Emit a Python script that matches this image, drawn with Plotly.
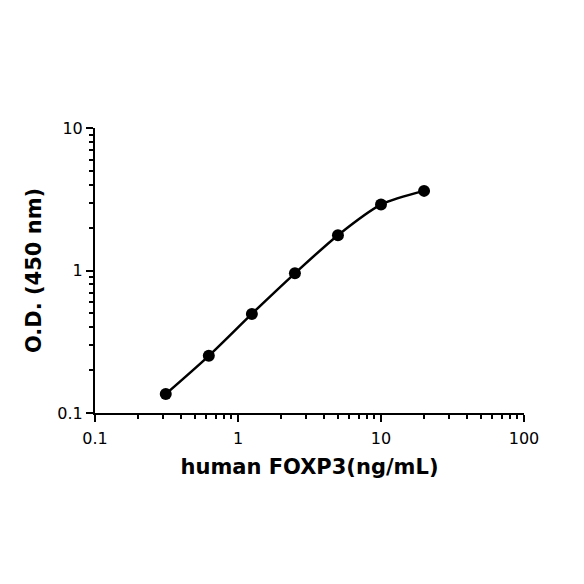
import plotly.graph_objects as go

conc = [0.3125, 0.625, 1.25, 2.5, 5, 10, 20]
od = [0.136, 0.252, 0.496, 0.955, 1.77, 2.9, 3.62]
x_ticks = [0.1, 1, 10, 100]
x_tick_labels = ["0.1", "1", "10", "100"]
y_ticks = [0.1, 1, 10]
y_tick_labels = ["0.1", "1", "10"]
x_minor = [m * d for d in (0.1, 1, 10) for m in range(2, 10)]
y_minor = [m * d for d in (0.1, 1) for m in range(2, 10)]

fig = go.Figure()
fig.add_trace(go.Scatter(
    x=conc, y=od, mode="lines+markers",
    line=dict(color="black", width=2.5, shape="spline", smoothing=0.8),
    marker=dict(color="black", size=12),
    showlegend=False,
))

axis_common = dict(
    type="log", showline=True, linecolor="black", linewidth=2,
    ticks="outside", ticklen=7, tickwidth=2, tickcolor="black",
    showgrid=False, zeroline=False, mirror=False,
    tickfont=dict(family="DejaVu Sans", size=16, color="black"),
)
title_font = dict(family="DejaVu Sans", size=21, color="black")

fig.update_xaxes(**axis_common, range=[-1, 2], tickvals=x_ticks, ticktext=x_tick_labels,
                 ticklabelstandoff=3,
                 minor=dict(tickvals=x_minor, ticks="outside", ticklen=4, tickwidth=2,
                            tickcolor="black", showgrid=False),
                 title=dict(text="<b>human FOXP3(ng/mL)</b>", font=title_font, standoff=12))
fig.update_yaxes(**axis_common, range=[-1, 1], tickvals=y_ticks, ticktext=y_tick_labels,
                 minor=dict(tickvals=y_minor, ticks="outside", ticklen=4, tickwidth=2,
                            tickcolor="black", showgrid=False),
                 title=dict(text="<b>O.D. (450 nm)</b>", font=title_font, standoff=10))

fig.update_layout(
    width=584, height=584,
    margin=dict(l=87, r=68, t=120, b=179),
    plot_bgcolor="white", paper_bgcolor="white",
)
fig.write_html("out.html")
